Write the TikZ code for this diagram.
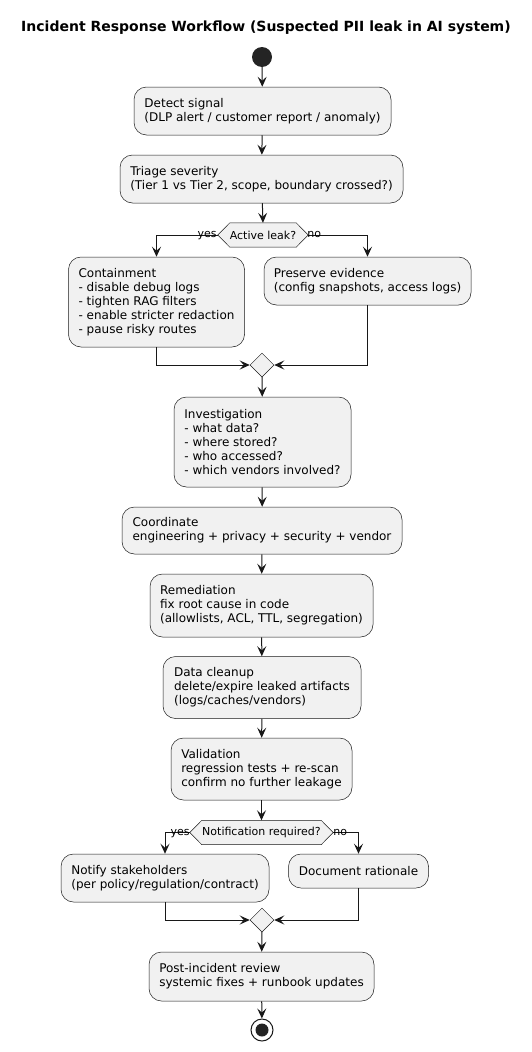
\documentclass[tikz,border=0pt]{standalone}
\usepackage{fontspec}
\setmainfont{DejaVu Sans}
\usetikzlibrary{arrows.meta,shapes.geometric,calc,backgrounds}
\definecolor{ln}{HTML}{181818}
\definecolor{bx}{HTML}{F1F1F1}
\begin{document}
\begin{tikzpicture}[x=1pt,y=-1pt,
  box/.style={draw=ln, fill=bx, line width=0.5pt, rounded corners=12.5pt, align=left,
    font=\fontsize{12}{14}\selectfont, inner sep=0pt, anchor=center},
  hexlabel/.style={inner sep=0pt, minimum height=24pt, font=\fontsize{11}{13}\selectfont},
  hexfill/.style={draw=ln, fill=bx, line width=0.5pt},
  merge/.style={diamond, draw=ln, fill=bx, line width=0.5pt, minimum width=24pt, minimum height=24pt, inner sep=0pt},
  arr/.style={draw=ln, line width=1pt, -{Stealth[length=10pt, width=9pt, inset=4pt]}},
  lbl/.style={font=\fontsize{11}{13}\selectfont, inner sep=0pt}
]
\useasboundingbox (0,0) rectangle (532,1052);
\node[font=\bfseries\fontsize{14}{16}\selectfont, inner sep=0pt] (title) at (266,28) {Incident Response Workflow (Suspected PII leak in AI system)};

\node[circle, fill=ln!95!white, minimum size=20pt, inner sep=0pt] (start) at (262,57) {};

\node[box, minimum width=257pt, minimum height=48pt] (detect) at (262.5,111) {Detect signal\\(DLP alert / customer report / anomaly)};
\node[box, minimum width=283pt, minimum height=48pt] (triage) at (261.5,179) {Triage severity\\(Tier 1 vs Tier 2, scope, boundary crossed?)};

\node[hexlabel, minimum width=90pt] (act) at (263,235) {Active leak?};
\begin{pgfonlayer}{background}
\draw[hexfill] (act.west) -- ($(act.north west)+(12pt,0pt)$) -- ($(act.north east)+(-12pt,0pt)$) -- (act.east) -- ($(act.south east)+(-12pt,0pt)$) -- ($(act.south west)+(12pt,0pt)$) -- cycle;
\end{pgfonlayer}

\node[box, minimum width=176pt, minimum height=90pt] (cont) at (156.5,302) {Containment\\- disable debug logs\\- tighten RAG filters\\- enable stricter redaction\\- pause risky routes};
\node[box, minimum width=207pt, minimum height=48pt] (pres) at (367.5,281) {Preserve evidence\\(config snapshots, access logs)};

\node[merge] (m1) at (262,365) {};

\node[box, minimum width=177pt, minimum height=90pt] (inv) at (262.5,442) {Investigation\\- what data?\\- where stored?\\- who accessed?\\- which vendors involved?};
\node[box, minimum width=280pt, minimum height=47pt] (coord) at (262,530.5) {Coordinate\\engineering + privacy + security + vendor};
\node[box, minimum width=223pt, minimum height=63pt] (remed) at (261.5,605.5) {Remediation\\fix root cause in code\\(allowlists, ACL, TTL, segregation)};
\node[box, minimum width=198pt, minimum height=62pt] (clean) at (262,687.5) {Data cleanup\\delete/expire leaked artifacts\\(logs/caches/vendors)};
\node[box, minimum width=181pt, minimum height=62pt] (valid) at (261.5,769) {Validation\\regression tests + re-scan\\confirm no further leakage};

\node[hexlabel, minimum width=143pt] (notif) at (261.5,832.5) {Notification required?};
\begin{pgfonlayer}{background}
\draw[hexfill] (notif.west) -- ($(notif.north west)+(12pt,0pt)$) -- ($(notif.north east)+(-12pt,0pt)$) -- (notif.east) -- ($(notif.south east)+(-12pt,0pt)$) -- ($(notif.south west)+(12pt,0pt)$) -- cycle;
\end{pgfonlayer}

\node[box, minimum width=208pt, minimum height=48pt] (notify) at (165,878) {Notify stakeholders\\(per policy/regulation/contract)};
\node[box, minimum width=140pt, minimum height=34pt] (doc) at (358.5,871) {Document rationale};

\node[merge] (m2) at (262,920) {};

\node[box, minimum width=225pt, minimum height=49pt] (post) at (261.5,976.5) {Post-incident review\\systemic fixes + runbook updates};

\node[circle, draw=ln, line width=1pt, fill=white, minimum size=22pt, inner sep=0pt] (stop) at (262,1030) {};
\fill[ln!95!white] (stop.center) circle (6.5pt);

% connectors
\draw[arr] (start) -- (detect);
\draw[arr] (detect) -- (triage);
\draw[arr] (triage) -- (act.north);
\draw[arr] (act.west) -| (cont.north);
\draw[arr] (act.east) -| (pres.north);
\node[lbl, anchor=base east] at ($(act.west)+(-1pt,-2pt)$) {yes};
\node[lbl, anchor=base west] at ($(act.east)+(-1pt,-2pt)$) {no};
\draw[arr] (cont.south) |- (m1.west);
\draw[arr] (pres.south) |- (m1.east);
\draw[arr] (m1) -- (inv);
\draw[arr] (inv) -- (coord);
\draw[arr] (coord) -- (remed);
\draw[arr] (remed) -- (clean);
\draw[arr] (clean) -- (valid);
\draw[arr] (valid) -- (notif.north);
\draw[arr] (notif.west) -| (notify.north);
\draw[arr] (notif.east) -| (doc.north);
\node[lbl, anchor=base east] at ($(notif.west)+(0pt,-2.5pt)$) {yes};
\node[lbl, anchor=base west] at ($(notif.east)+(0pt,-2.5pt)$) {no};
\draw[arr] (notify.south) |- (m2.west);
\draw[arr] (doc.south) |- (m2.east);
\draw[arr] (m2) -- (post);
\draw[arr] (post) -- (stop);
\end{tikzpicture}
\end{document}
